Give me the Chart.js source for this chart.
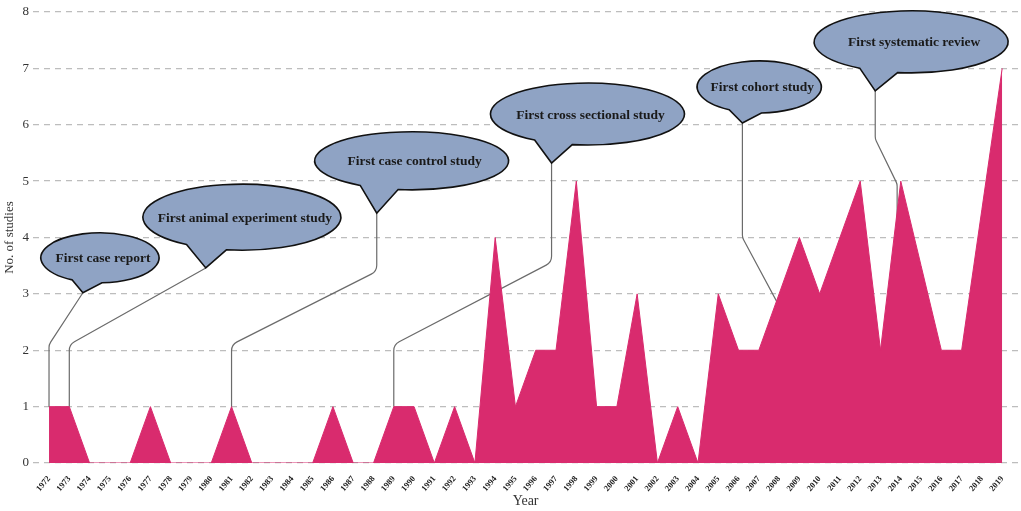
<!DOCTYPE html>
<html>
<head>
<meta charset="utf-8">
<script src="https://cdn.jsdelivr.net/npm/chart.js@4"></script>
<style>
  html, body { margin: 0; padding: 0; background: #fff; }
  #wrap { width: 1021px; height: 511px; }
</style>
</head>
<body>
<div id="wrap"><canvas id="studyChart"></canvas></div>
<script>
const years = [1972, 1973, 1974, 1975, 1976, 1977, 1978, 1979, 1980, 1981, 1982, 1983, 1984, 1985, 1986, 1987,
    1988, 1989, 1990, 1991, 1992, 1993, 1994, 1995, 1996, 1997, 1998, 1999, 2000, 2001, 2002, 2003,
    2004, 2005, 2006, 2007, 2008, 2009, 2010, 2011, 2012, 2013, 2014, 2015, 2016, 2017, 2018, 2019];
const studies = [1, 1, 0, 0, 0, 1, 0, 0, 0, 1, 0, 0, 0, 0, 1, 0,
    0, 1, 1, 0, 1, 0, 4, 1, 2, 2, 5, 1, 1, 3, 0, 1,
    0, 3, 2, 2, 3, 4, 3, 4, 5, 2, 5, 3.5, 2, 2, 4.5, 7];
const yTicks = [0, 1, 2, 3, 4, 5, 6, 7, 8];

// speech bubbles: centre / tip / leader points in data units (year, studies)
const callouts = [
    { text: 'First case report', center: [1974.51, 3.64], rx: 59, ry: 25, tail: [88, 118],
      tip: [1973.67, 3.02], leader: [[1972, 1], [1972, 2.1]] },
    { text: 'First animal experiment study', center: [1981.51, 4.36], rx: 99, ry: 33, tail: [99, 124],
      tip: [1979.73, 3.46], leader: [[1973, 1], [1973, 2.1]] },
    { text: 'First case control study', center: [1989.88, 5.36], rx: 97, ry: 29, tail: [98, 122],
      tip: [1988.16, 4.43], leader: [[1981, 1], [1981, 2.1], [1988.16, 3.4]] },
    { text: 'First cross sectional study', center: [1998.55, 6.19], rx: 97, ry: 31, tail: [99, 123],
      tip: [1996.78, 5.32], leader: [[1989, 1], [1989, 2.1], [1996.78, 3.56]] },
    { text: 'First cohort study', center: [2007.02, 6.67], rx: 62, ry: 26, tail: [88, 119],
      tip: [2006.19, 6.03], leader: [[2008.5, 2.45], [2006.19, 4.0]] },
    { text: 'First systematic review', center: [2014.51, 7.47], rx: 97, ry: 31, tail: [98, 122],
      tip: [2012.74, 6.6], leader: [[2013.82, 3], [2013.82, 4.95], [2012.74, 5.75]] }
];

const serif = '"Liberation Serif", "DejaVu Serif", serif';

const calloutPlugin = {
    id: 'callouts',
    beforeDatasetsDraw(chart) {
        const { ctx, scales: { x, y } } = chart;
        ctx.save();
        ctx.strokeStyle = '#6b6b6b';
        ctx.lineWidth = 1.2;
        callouts.forEach(c => {
            const pts = c.leader.concat([c.tip]).map(p => [x.getPixelForValue(p[0]), y.getPixelForValue(p[1])]);
            ctx.beginPath();
            ctx.moveTo(pts[0][0], pts[0][1]);
            for (let i = 1; i < pts.length - 1; i++) {
                ctx.arcTo(pts[i][0], pts[i][1], pts[i + 1][0], pts[i + 1][1], 10);
            }
            ctx.lineTo(pts[pts.length - 1][0], pts[pts.length - 1][1]);
            ctx.stroke();
        });
        ctx.restore();
    },
    afterDatasetsDraw(chart) {
        const { ctx, scales: { x, y } } = chart;
        ctx.save();
        callouts.forEach(c => {
            const cx = x.getPixelForValue(c.center[0]);
            const cy = y.getPixelForValue(c.center[1]);
            const tx = x.getPixelForValue(c.tip[0]);
            const ty = y.getPixelForValue(c.tip[1]);
            const a1 = c.tail[0] * Math.PI / 180;
            const a2 = c.tail[1] * Math.PI / 180;
            ctx.beginPath();
            ctx.ellipse(cx, cy, c.rx, c.ry, 0, a2, a1 + Math.PI * 2, false);
            ctx.lineTo(tx, ty);
            ctx.closePath();
            ctx.fillStyle = '#8fa3c4';
            ctx.fill();
            ctx.strokeStyle = '#111';
            ctx.lineWidth = 1.6;
            ctx.stroke();
            ctx.fillStyle = '#1a1a1a';
            ctx.font = 'bold 13.5px ' + serif;
            ctx.textAlign = 'center';
            ctx.textBaseline = 'middle';
            ctx.fillText(c.text, cx + 3, cy + 1);
        });
        ctx.restore();
    }
};

const ctx = document.getElementById('studyChart').getContext('2d');
new Chart(ctx, {
    type: 'line',
    data: {
        datasets: [{
            data: years.map((yr, i) => ({ x: yr, y: studies[i] })),
            backgroundColor: '#d92b6e',
            borderColor: '#d92b6e',
            borderWidth: 1,
            fill: 'origin',
            tension: 0,
            pointRadius: 0
        }]
    },
    options: {
        responsive: true,
        maintainAspectRatio: false,
        animation: false,
        layout: { padding: { top: 12, right: 0, left: 0, bottom: 0 } },
        plugins: { legend: { display: false }, tooltip: { enabled: false } },
        scales: {
            x: {
                type: 'linear',
                min: 1971.21,
                max: 2019.79,
                afterBuildTicks(scale) { scale.ticks = years.map(v => ({ value: v })); },
                afterFit(scale) { scale.height = 48; },
                grid: { display: false, drawTicks: false },
                border: { display: false },
                ticks: {
                    autoSkip: false,
                    minRotation: 50,
                    maxRotation: 50,
                    padding: 11,
                    color: '#222',
                    font: { family: serif, size: 8.5, weight: 'bold' },
                    callback: v => String(v)
                },
                title: {
                    display: true,
                    text: 'Year',
                    color: '#333',
                    padding: { top: 0, bottom: 1 },
                    font: { family: serif, size: 14 }
                }
            },
            y: {
                min: 0,
                max: 8,
                afterBuildTicks(scale) { scale.ticks = yTicks.map(v => ({ value: v })); },
                afterFit(scale) { scale.width = 33; },
                grid: { color: '#bdbdbd', lineWidth: 1.3, drawTicks: false },
                border: { display: false, dash: [6, 5] },
                ticks: {
                    padding: 4,
                    color: '#333',
                    font: { family: serif, size: 13 }
                },
                title: {
                    display: true,
                    text: 'No. of studies',
                    color: '#333',
                    padding: { top: 2, bottom: 2 },
                    font: { family: serif, size: 13 }
                }
            }
        }
    },
    plugins: [calloutPlugin]
});
</script>
</body>
</html>
